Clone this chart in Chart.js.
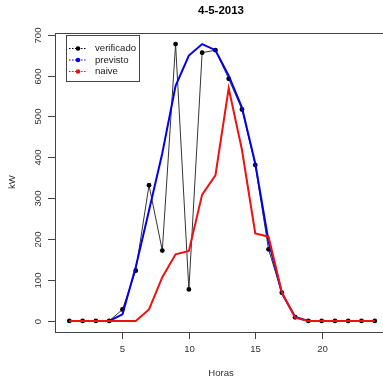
<!DOCTYPE html>
<html>
<head>
<meta charset="utf-8">
<script src="https://cdn.jsdelivr.net/npm/chart.js@4.4.0/dist/chart.umd.min.js"></script>
<style>
  html, body { margin: 0; padding: 0; overflow: hidden; background: #fff; }
  #wrap { position: absolute; left: 0; top: 0; }
</style>
</head>
<body>
<div id="wrap"><canvas id="kwChart" width="400" height="383"></canvas></div>
<script>
// chart data
const title = '4-5-2013';
const xTitle = 'Horas';
const yTitle = 'kW';
const hours = [1,2,3,4,5,6,7,8,9,10,11,12,13,14,15,16,17,18,19,20,21,22,23,24];
const verificado = [0,0,0,0,28,123,332,172,677,77,656,662,592,517,381,175,69,9,0,0,0,0,0,0];
const previsto = [0,0,0,0,16,132,270,410,575,649,677,662,600,522,385,195,68,10,0,0,0,0,0,0];
const naive = [0,0,0,0,0,0,28,107,163,171,309,356,569,418,214,206,70,8,0,0,0,0,0,0];
const xTicks = [5,10,15,20];
const yTicks = [0,100,200,300,400,500,600,700];
const labels = ['verificado','previsto','naive'];
const colors = ['#000000','#0000ee','#ee1111'];

const toPoints = arr => arr.map((v, i) => ({x: hours[i], y: v}));

// R-style axes, box, titles and legend
const rAxes = {
    id: 'rAxes',
    afterDraw(chart) {
        const ctx = chart.ctx;
        const a = chart.chartArea;
        const xs = chart.scales.x, ys = chart.scales.y;
        ctx.save();
        ctx.strokeStyle = '#444';
        ctx.lineWidth = 1;
        ctx.strokeRect(Math.round(a.left) + 0.5, Math.round(a.top) + 0.5, a.right - a.left, a.bottom - a.top);

        ctx.fillStyle = '#333';
        ctx.font = '9.6px "Liberation Sans", Arial, sans-serif';
        ctx.textAlign = 'center';
        ctx.textBaseline = 'middle';
        // x ticks
        xTicks.forEach(t => {
            const px = Math.round(xs.getPixelForValue(t)) + 0.5;
            ctx.beginPath();
            ctx.moveTo(px, a.bottom);
            ctx.lineTo(px, a.bottom + 7);
            ctx.stroke();
            ctx.fillText(String(t), px, a.bottom + 17);
        });
        // y ticks
        yTicks.forEach(t => {
            const py = Math.round(ys.getPixelForValue(t)) + 0.5;
            ctx.beginPath();
            ctx.moveTo(a.left, py);
            ctx.lineTo(a.left - 7, py);
            ctx.stroke();
            ctx.save();
            ctx.translate(a.left - 17, py);
            ctx.rotate(-Math.PI / 2);
            ctx.fillText(String(t), 0, 0);
            ctx.restore();
        });
        // axis titles
        ctx.fillText(xTitle, 221, 373);
        ctx.save();
        ctx.translate(12, 182);
        ctx.rotate(-Math.PI / 2);
        ctx.fillText(yTitle, 0, 0);
        ctx.restore();
        // main title
        ctx.fillStyle = '#000';
        ctx.font = 'bold 11.5px "Liberation Sans", Arial, sans-serif';
        ctx.fillText(title, 221, 11);

        // legend
        const lx = 66.5, ly = 35.5, lw = 73, lh = 46;
        ctx.fillStyle = '#fff';
        ctx.fillRect(lx, ly, lw, lh);
        ctx.strokeStyle = '#444';
        ctx.strokeRect(lx, ly, lw, lh);
        ctx.font = '9.6px "Liberation Sans", Arial, sans-serif';
        ctx.textAlign = 'left';
        labels.forEach((lab, i) => {
            const y = 48.5 + i * 11.5;
            ctx.strokeStyle = colors[i];
            ctx.setLineDash([1.5, 1.5]);
            ctx.beginPath();
            ctx.moveTo(69, y);
            ctx.lineTo(87, y);
            ctx.stroke();
            ctx.setLineDash([]);
            ctx.fillStyle = colors[i];
            ctx.beginPath();
            ctx.arc(78, y, 2.3, 0, Math.PI * 2);
            ctx.fill();
            ctx.fillStyle = '#222';
            ctx.fillText(lab, 95, y);
        });
        ctx.restore();
    }
};

new Chart(document.getElementById('kwChart'), {
    type: 'line',
    data: {
        datasets: [{
            label: labels[0],
            data: toPoints(verificado),
            borderColor: '#333',
            borderWidth: 1,
            pointRadius: 2.4,
            pointBackgroundColor: '#000',
            pointBorderColor: '#000',
            pointBorderWidth: 0,
            tension: 0,
            order: 3
        }, {
            label: labels[1],
            data: toPoints(previsto),
            borderColor: colors[1],
            borderWidth: 2,
            pointRadius: 0,
            tension: 0,
            order: 2
        }, {
            label: labels[2],
            data: toPoints(naive),
            borderColor: colors[2],
            borderWidth: 2,
            pointRadius: 0,
            tension: 0,
            order: 1
        }]
    },
    options: {
        responsive: false,
        animation: false,
        devicePixelRatio: 1,
        layout: { padding: { left: 55, top: 33, right: 13, bottom: 51 } },
        plugins: { legend: { display: false }, tooltip: { enabled: false } },
        scales: {
            x: { type: 'linear', min: -0.08, max: 24.92, display: false },
            y: { type: 'linear', min: -27.08, max: 704.08, display: false }
        }
    },
    plugins: [rAxes]
});
</script>
</body>
</html>
